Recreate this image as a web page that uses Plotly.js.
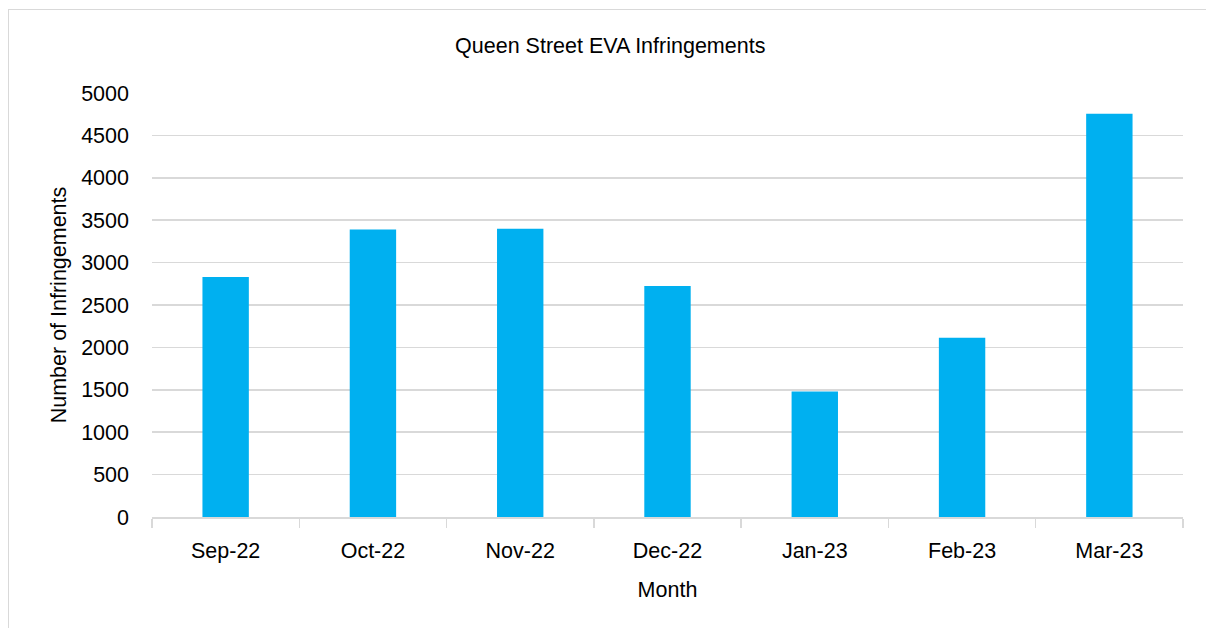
<!DOCTYPE html>
<html>
<head>
<meta charset="utf-8">
<script src="https://cdn.plot.ly/plotly-3.0.1.min.js"></script>
<style>
html,body{margin:0;padding:0;background:#fff;}
#wrap{position:relative;width:1206px;height:628px;overflow:hidden;}
#chart{position:absolute;left:0;top:0;width:1206px;height:628px;}
#frame{position:absolute;left:8px;top:9px;width:1300px;height:700px;border-left:1.5px solid #d9d9d9;border-top:1.5px solid #d9d9d9;pointer-events:none;}
</style>
</head>
<body>
<div id="wrap"><div id="chart"></div><div id="frame"></div></div>
<script>
const months = ["Sep-22","Oct-22","Nov-22","Dec-22","Jan-23","Feb-23","Mar-23"];
const infringements = [2830, 3390, 3400, 2725, 1480, 2115, 4755];
const yTicks = [0,500,1000,1500,2000,2500,3000,3500,4000,4500,5000];

const FONT = '"Liberation Sans Narrow", "Arial Narrow", "Liberation Sans", Arial, sans-serif';
const FS = 21.5;

const data = [{
  type: 'bar',
  x: months,
  y: infringements,
  marker: {color: '#00B0F0', line: {width: 0}},
  hoverinfo: 'x+y'
}];

const layout = {
  width: 1206, height: 628,
  margin: {l: 152, r: 23, t: 93, b: 111},
  paper_bgcolor: 'rgba(0,0,0,0)',
  plot_bgcolor: 'rgba(0,0,0,0)',
  font: {family: FONT, size: FS, color: '#000'},
  bargap: 0.685,
  showlegend: false,
  title: {text: 'Queen Street EVA Infringements', x: 0.506, xanchor: 'center', y: 0.927, yanchor: 'middle', font: {family: FONT, size: FS, color: '#000'}},
  xaxis: {
    type: 'category',
    showgrid: false,
    showline: true, linecolor: '#d9d9d9', linewidth: 1.5,
    ticks: 'outside', tickson: 'boundaries', ticklen: 9, tickcolor: '#d9d9d9', tickwidth: 1.5,
    ticklabelstandoff: 14,
    tickfont: {family: FONT, size: FS, color: '#000'},
    title: {text: 'Month', standoff: 19, font: {family: FONT, size: FS, color: '#000'}},
    fixedrange: true
  },
  yaxis: {
    range: [0, 5000],
    tickvals: yTicks,
    ticktext: yTicks.map(String),
    showgrid: true, gridcolor: '#d9d9d9', gridwidth: 1.5,
    zeroline: false, showline: false,
    ticks: '', ticklabelstandoff: 22,
    tickfont: {family: FONT, size: FS, color: '#000'},
    title: {text: 'Number of Infringements', standoff: 8, font: {family: FONT, size: FS, color: '#000'}},
    fixedrange: true
  }
};

Plotly.newPlot('chart', data, layout, {displayModeBar: false, staticPlot: true});
</script>
</body>
</html>
